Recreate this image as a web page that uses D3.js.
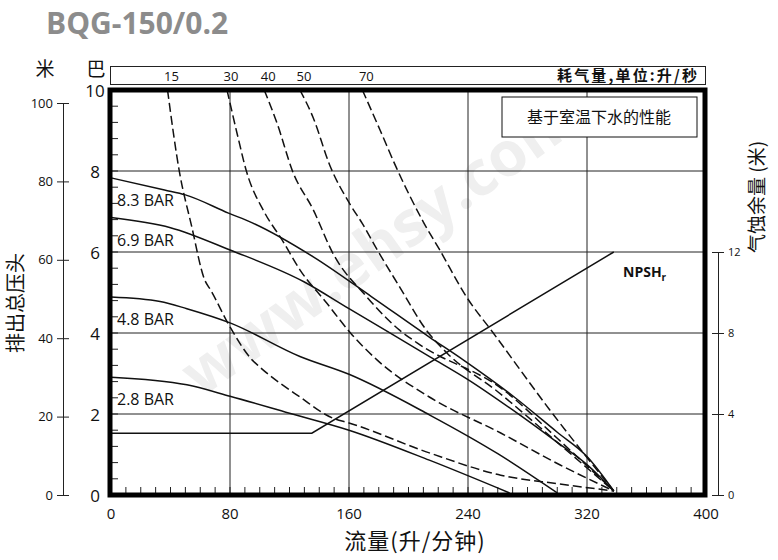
<!DOCTYPE html>
<html>
<head>
<meta charset="utf-8">
<script src="https://cdn.jsdelivr.net/npm/d3@7"></script>
<style>
  body { margin: 0; background: #fff; }
  text { font-family: "Open Sans", "Noto Sans CJK SC", sans-serif; fill: #111; }
  .cjk { font-family: "Noto Sans CJK SC", sans-serif; }
</style>
</head>
<body>
<svg id="chart" width="778" height="560"></svg>
<script>
// ---- data ----
const flowTicks = [0, 80, 160, 240, 320, 400];     // 升/分钟
const barTicks = [0, 2, 4, 6, 8, 10];              // 巴
const meterTicks = [0, 20, 40, 60, 80, 100];       // 米
const npshTicks = [0, 4, 8, 12];                   // 米

// discharge pressure curves [flow, bar]
const pressureLabels = ["8.3 BAR", "6.9 BAR", "4.8 BAR", "2.8 BAR"];
const bar83 = [[0,7.83],[36,7.53],[50,7.41],[79,6.96],[95,6.72],[136,5.88],[175,4.9],[214,3.9],[237,3.33],[270,2.45],[300,1.55],[320,0.95],[338,0.1]];
const bar69 = [[0,6.85],[40,6.6],[80,6.05],[130,5.26],[160,4.6],[215,3.4],[240,2.85],[270,2.1],[300,1.3],[320,0.75],[338,0.1]];
const bar48 = [[0,4.89],[33,4.78],[51,4.6],[80,4.25],[127,3.42],[160,2.98],[214,1.98],[260,1.02],[300,0.05]];
const bar28 = [[0,2.91],[51,2.72],[80,2.44],[120,2.02],[160,1.6],[214,0.86],[268,0.05]];

// air consumption curves [flow, bar], 升/秒
const airLabels = [15, 30, 40, 50, 70];
const air15 = [[38,10],[46,7.98],[54,6.67],[63,5.31],[67,5.06],[80,4.15],[95,3.33],[100,3.16],[127,2.42],[149,1.9],[160,1.78],[214,1.04],[262,0.49],[300,0.28],[338,0.1]];
const air30 = [[78,10],[85,8.89],[91,8.0],[103,6.99],[115,6.3],[127,5.56],[145,4.74],[161,4.0],[179,3.33],[214,2.42],[262,1.53],[302,0.74],[338,0.1]];
const air40 = [[103,10],[112,9.14],[122,8.0],[136,7.04],[149,5.98],[172,4.89],[194,4.07],[206,3.75],[264,2.59],[300,1.4],[338,0.1]];
const air50 = [[127,10],[136,9.31],[147,8.15],[161,7.16],[169,6.7],[179,6.05],[194,5.14],[212,4.07],[226,3.5],[260,2.55],[300,1.3],[338,0.1]];
const air70 = [[169,10],[181,9.0],[192,8.07],[210,6.74],[221,6.05],[239,4.89],[257,4.0],[295,2.1],[338,0.1]];

// NPSHr curve [flow, 米]
const npshCurve = [[0,3.05],[135,3.05],[338,12]];

const pressureCurves = [bar83, bar69, bar48, bar28];
const airCurves = [air15, air30, air40, air50, air70];

// ---- scales ----
const svg = d3.select("#chart");
const x = d3.scaleLinear().domain([0, 400]).range([111, 706]);
const y = d3.scaleLinear().domain([0, 10]).range([495, 90]);
const meterY = d3.scaleLinear().domain([0, 100]).range([495, 103]);
const npshY = d3.scaleLinear().domain([0, 12]).range([y(0), y(6)]);

// title
svg.append("text")
  .attr("x", 46).attr("y", 34)
  .style("font-size", "30px").style("font-weight", "bold").style("fill", "#8c8c8c")
  .text("BQG-150/0.2");

// watermark
svg.append("text")
  .attr("transform", "translate(392,262) rotate(-35.5)")
  .attr("text-anchor", "middle")
  .style("font-size", "62px").style("font-weight", "bold").style("fill", "#efefef")
  .text("www.ehsy.com");

// grid
svg.append("g").selectAll("line").data([80, 160, 240, 320]).join("line")
  .attr("x1", d => x(d)).attr("x2", d => x(d))
  .attr("y1", y(10)).attr("y2", y(0))
  .attr("stroke", "#222").attr("stroke-width", 1);
svg.append("g").selectAll("line").data([2, 4, 6, 8]).join("line")
  .attr("x1", x(0)).attr("x2", x(400))
  .attr("y1", d => y(d)).attr("y2", d => y(d))
  .attr("stroke", "#222").attr("stroke-width", 1);

// minor ticks
svg.append("g").selectAll("line").data(d3.range(10, 400, 10)).join("line")
  .attr("x1", d => x(d)).attr("x2", d => x(d))
  .attr("y1", y(0) - 2).attr("y2", y(0) - 8)
  .attr("stroke", "#222");
svg.append("g").selectAll("line").data(d3.range(0.4, 10, 0.4)).join("line")
  .attr("x1", x(0) + 1).attr("x2", x(0) + 7)
  .attr("y1", d => y(d)).attr("y2", d => y(d))
  .attr("stroke", "#222");

// curves
const line = d3.line().x(d => x(d[0])).y(d => y(d[1])).curve(d3.curveMonotoneX);
const plot = svg.append("g");

pressureCurves.forEach((c, i) => {
  plot.append("text")
    .attr("x", 117).attr("y", y(c[0][1]) + 28)
    .style("font-size", "16px")
    .text(pressureLabels[i]);
});

plot.selectAll(".air").data(airCurves).join("path")
  .attr("class", "air")
  .attr("d", line)
  .attr("fill", "none").attr("stroke", "#111").attr("stroke-width", 1.5)
  .attr("stroke-dasharray", "9,4");

plot.selectAll(".press").data(pressureCurves).join("path")
  .attr("class", "press")
  .attr("d", line)
  .attr("fill", "none").attr("stroke", "#111").attr("stroke-width", 1.5);

const npshLine = d3.line().x(d => x(d[0])).y(d => npshY(d[1]));
plot.append("path").datum(npshCurve)
  .attr("d", npshLine)
  .attr("fill", "none").attr("stroke", "#111").attr("stroke-width", 1.5);

svg.append("text").attr("x", 623).attr("y", 277)
  .style("font-size", "14px").style("font-weight", "bold")
  .text("NPSH")
  .append("tspan").attr("dy", 4).style("font-size", "10px").text("r");

// frame
svg.append("rect")
  .attr("x", 110).attr("y", 90).attr("width", 595).attr("height", 405)
  .attr("fill", "none").attr("stroke", "#000").attr("stroke-width", 5);

// info box
svg.append("rect").attr("x", 502).attr("y", 97).attr("width", 195).attr("height", 40)
  .attr("fill", "#fff").attr("stroke", "#111").attr("stroke-width", 1);
svg.append("text").attr("class", "cjk").attr("x", 599).attr("y", 123)
  .attr("text-anchor", "middle").style("font-size", "16px")
  .text("基于室温下水的性能");

// top air-consumption box
svg.append("rect").attr("x", 110.5).attr("y", 66.5).attr("width", 595).attr("height", 18)
  .attr("fill", "none").attr("stroke", "#222").attr("stroke-width", 1);
svg.append("g").selectAll("text").data(airCurves).join("text")
  .attr("x", d => x(d[0][0]) + 4).attr("y", 81)
  .attr("text-anchor", "middle").style("font-size", "13px")
  .text((d, i) => airLabels[i]);
svg.append("text").attr("class", "cjk").attr("x", 557).attr("y", 81)
  .attr("textLength", 140).attr("lengthAdjust", "spacing")
  .style("font-size", "15px").style("font-weight", "bold")
  .text("耗气量,单位:升/秒");

// x axis labels
svg.append("g").selectAll("text").data(flowTicks).join("text")
  .attr("x", d => x(d)).attr("y", 519)
  .attr("text-anchor", "middle").style("font-size", "15px")
  .text(d => d);
svg.append("text").attr("class", "cjk").attr("x", 415).attr("y", 549)
  .attr("text-anchor", "middle")
  .style("font-size", "22px").style("letter-spacing", "1px")
  .text("流量(升/分钟)");

// bar labels
svg.append("g").selectAll("text").data(barTicks).join("text")
  .attr("x", 95).attr("y", d => y(d) + 7)
  .attr("text-anchor", "middle").style("font-size", "17px")
  .text(d => d);
svg.append("text").attr("class", "cjk").attr("x", 96).attr("y", 76)
  .attr("text-anchor", "middle").style("font-size", "19px").text("巴");
svg.append("text").attr("class", "cjk").attr("x", 45).attr("y", 76)
  .attr("text-anchor", "middle").style("font-size", "19px").text("米");

// meter axis
const mAxis = svg.append("g").attr("transform", "translate(63,0)")
  .call(d3.axisLeft(meterY).tickValues(meterTicks).tickSize(6).tickSizeOuter(0).tickPadding(4));
mAxis.select(".domain").attr("stroke", "#222");
mAxis.selectAll(".tick line").attr("x1", 6).attr("x2", -6).attr("stroke", "#222");
mAxis.selectAll(".tick text").style("font-size", "13px").attr("fill", "#111")
  .style("font-family", "'Open Sans', sans-serif");
svg.append("text").attr("class", "cjk")
  .attr("transform", "translate(23,303) rotate(-90)")
  .attr("text-anchor", "middle").style("font-size", "20px")
  .text("排出总压头");

// NPSH axis
const nAxis = svg.append("g").attr("transform", "translate(718,0)")
  .call(d3.axisRight(npshY).tickValues(npshTicks).tickSize(6).tickSizeOuter(0).tickPadding(4));
nAxis.select(".domain").attr("stroke", "#222");
nAxis.selectAll(".tick line").attr("x1", -6).attr("x2", 6).attr("stroke", "#222");
nAxis.selectAll(".tick text").style("font-size", "11px").attr("fill", "#111")
  .style("font-family", "'Open Sans', sans-serif");
svg.append("text").attr("class", "cjk")
  .attr("transform", "translate(764,197) rotate(-90)")
  .attr("text-anchor", "middle").style("font-size", "19px")
  .text("气蚀余量 (米)");
</script>
</body>
</html>
